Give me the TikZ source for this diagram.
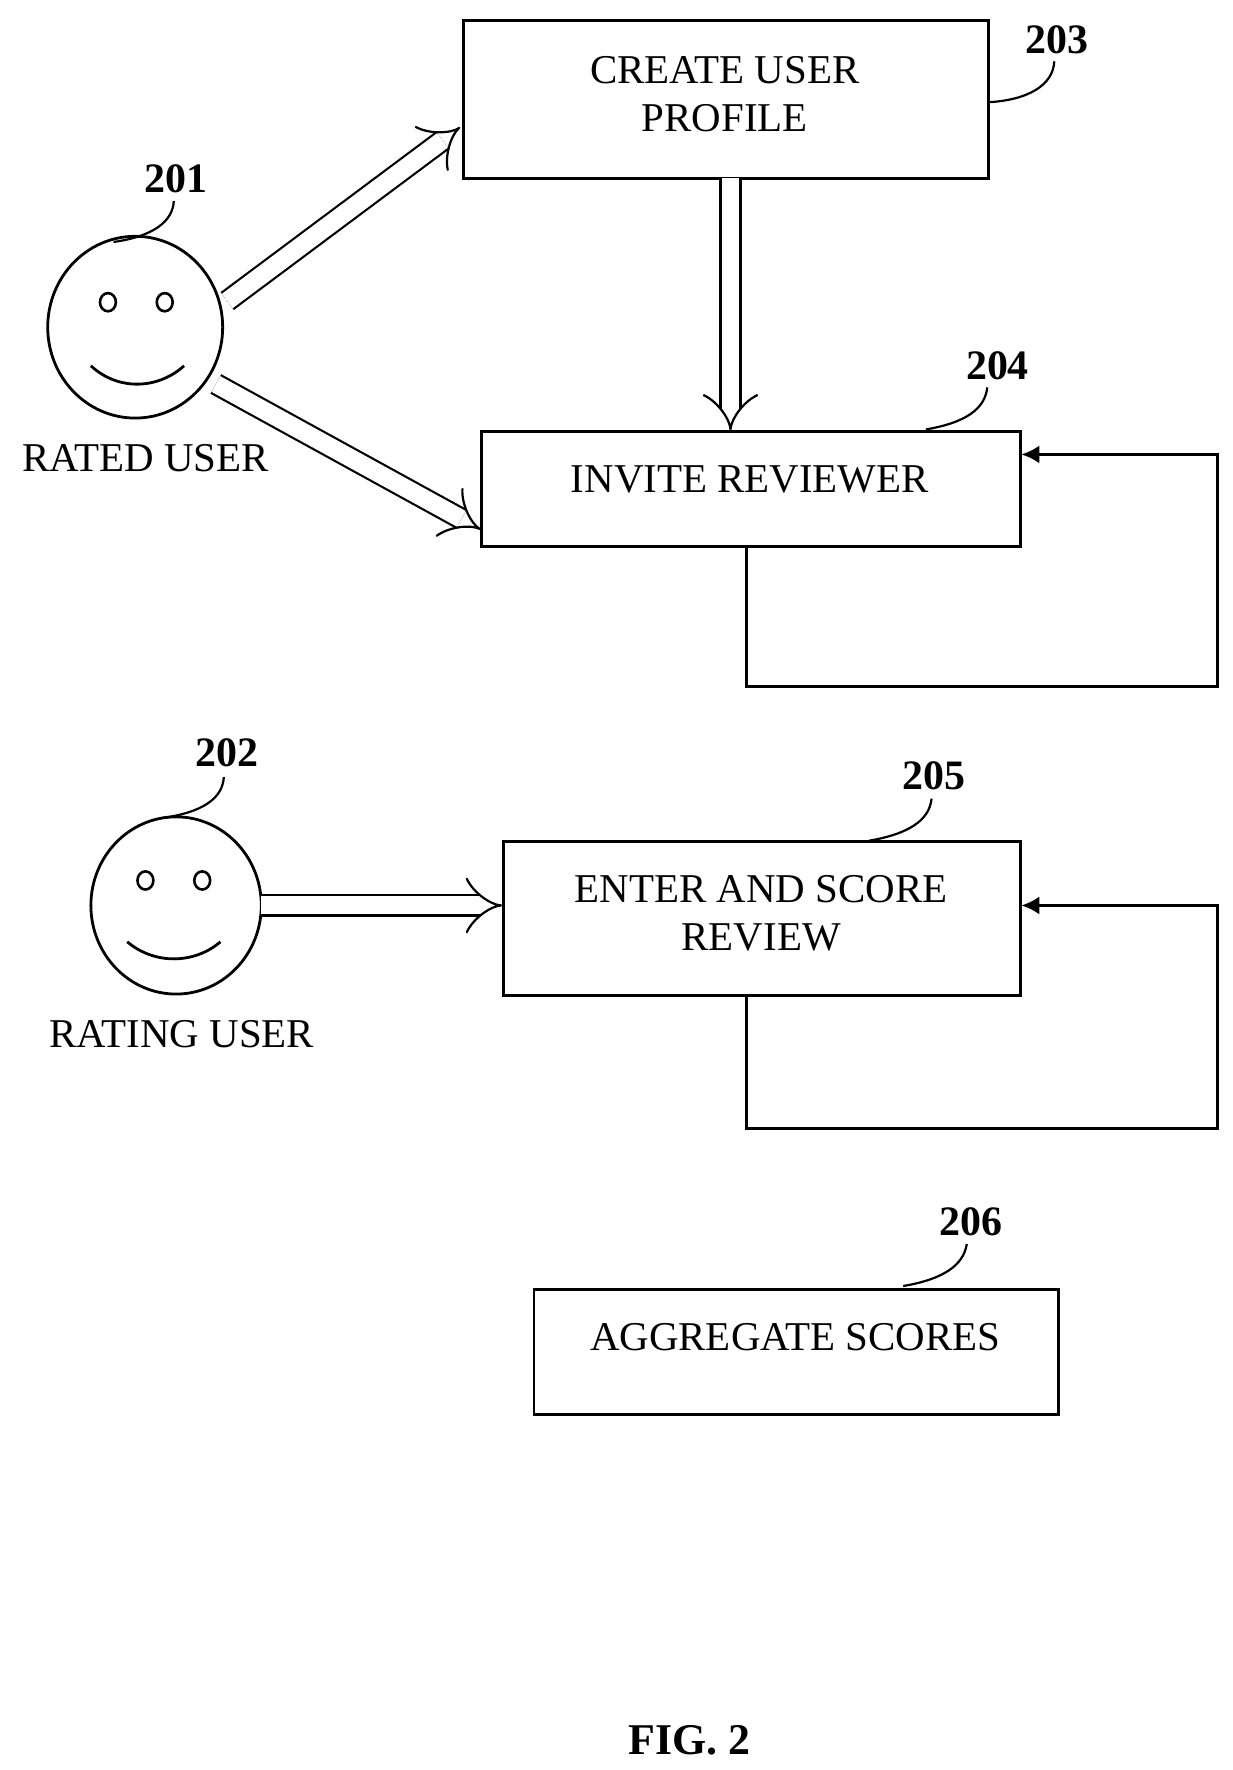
\documentclass[tikz,border=0pt]{standalone}
\usepackage{fontspec}
\setmainfont{Liberation Serif}
\usetikzlibrary{arrows.meta,calc}
\begin{document}
\begin{tikzpicture}[x=0.02cm,y=-0.02cm,
  box/.style={draw,line width=1.4pt,minimum width=0pt},
  txt/.style={font=\fontsize{20.5}{24}\selectfont,align=center},
  lab/.style={font=\fontsize{21}{23}\selectfont\bfseries},
  hollow/.style={line width=1.1pt,double,double distance=9pt,-{Implies[length=11pt]}},
  fb/.style={line width=1.4pt,-{Latex[length=9pt,width=9pt]}},
  lead/.style={line width=1.1pt}]
\useasboundingbox (0,0) rectangle (1085,1558);
% boxes
\draw[box] (408,18) rectangle (870,157);
\node[txt] (b203) at (638,83) {CREATE USER\\PROFILE};
\draw[box] (424,380) rectangle (898,481);
\node[txt] (b204) at (660,422) {INVITE REVIEWER};
\draw[box] (443,741) rectangle (898,876);
\node[txt] (b205) at (670,804) {ENTER AND SCORE\\REVIEW};
\draw[box] (470,1135) rectangle (932,1245);
\node[txt] (b206) at (700,1177) {AGGREGATE SCORES};
% faces
\draw[line width=1.4pt] (119,288) ellipse [x radius=77,y radius=80];
\draw[line width=1.3pt] (95,266) ellipse [x radius=7,y radius=8];
\draw[line width=1.3pt] (145,266) ellipse [x radius=7,y radius=8];
\draw[line width=1.4pt] (80,322) .. controls (105,345) and (140,342) .. (162,322);
\node[txt] (r1) at (128,403) {RATED USER};
\draw[line width=1.4pt] (155,797) ellipse [x radius=75,y radius=78];
\draw[line width=1.3pt] (128,775) ellipse [x radius=7,y radius=8];
\draw[line width=1.3pt] (178,775) ellipse [x radius=7,y radius=8];
\draw[line width=1.4pt] (112,829) .. controls (137,850) and (172,848) .. (194,829);
\node[txt] (r2) at (160,910) {RATING USER};
% labels
\node[lab] (l201) at (155,157) {201};
\draw[lead] (100,213) .. controls (135,208) and (152,195) .. (153,177);
\node[lab] (l202) at (200,663) {202};
\draw[lead] (143,720) .. controls (178,715) and (196,703) .. (197,684);
\node[lab] (l203) at (930,35) {203};
\draw[lead] (870,90) .. controls (905,88) and (927,75) .. (928,54);
\node[lab] (l204) at (878,322) {204};
\draw[lead] (815,378) .. controls (850,372) and (867,360) .. (869,341);
\node[lab] (l205) at (822,683) {205};
\draw[lead] (765,740) .. controls (800,734) and (818,722) .. (820,703);
\node[lab] (l206) at (855,1075) {206};
\draw[lead] (795,1132) .. controls (830,1126) and (848,1114) .. (851,1095);
\node[font=\fontsize{22}{24}\selectfont\bfseries] (fig) at (607,1532) {FIG. 2};
% hollow arrows
\draw[hollow] (200,265) -- (405,112);
\draw[hollow] (643,157) -- (643,379);
\draw[hollow] (190,338) -- (423,466);
\draw[hollow] (230,797) -- (442,797);
% feedback loops
\draw[fb] (657,481) -- (657,604) -- (1072,604) -- (1072,400) -- (899,400);
\draw[fb] (657,876) -- (657,993) -- (1072,993) -- (1072,797) -- (899,797);
\end{tikzpicture}
\end{document}
